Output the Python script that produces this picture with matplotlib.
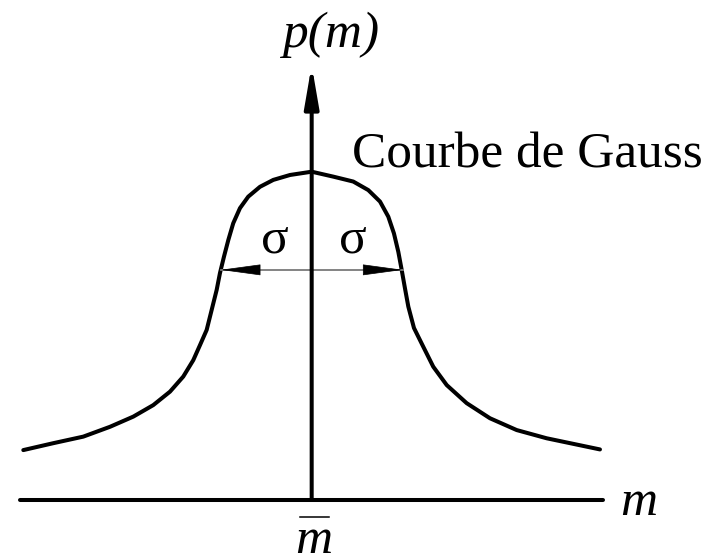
import matplotlib
matplotlib.use("Agg")
import matplotlib.pyplot as plt

# Bell curve p(m): m in units of sigma from the mean, p normalised to the peak
m_values = [-3.169, -2.840, -2.510, -2.216, -1.960, -1.741, -1.557, -1.411, -1.301,
            -1.227, -1.154, -1.099, -1.044, -1.008, -0.964, -0.916, -0.862, -0.788,
            -0.697, -0.568, -0.422, -0.238, 0.000,
            0.237, 0.457, 0.622, 0.751, 0.842, 0.904, 0.952, 0.989, 1.025, 1.062,
            1.124, 1.226, 1.336, 1.484, 1.703, 1.959, 2.253, 2.582, 2.875, 3.168]
p_values = [0.152, 0.173, 0.193, 0.223, 0.254, 0.289, 0.330, 0.376, 0.426,
            0.472, 0.518, 0.579, 0.640, 0.691, 0.741, 0.792, 0.843, 0.889,
            0.924, 0.954, 0.975, 0.990, 1.000,
            0.985, 0.970, 0.944, 0.909, 0.863, 0.812, 0.756, 0.701, 0.645, 0.589,
            0.524, 0.467, 0.406, 0.350, 0.295, 0.249, 0.213, 0.188, 0.171, 0.154]

sigma = 1.0
p_at_sigma = 0.701

x_axis_extent = (-3.205, 3.20)
y_axis_top = 1.325

title_text = "Courbe de Gauss"
y_label = "p(m)"
x_label = "m"
mean_label = "m"
sigma_label = "σ"

fig = plt.figure(figsize=(7.19, 5.56), dpi=100)
ax = fig.add_axes([0, 0, 1, 1])
ax.set_xlim(-3.425, 4.476)
ax.set_ylim(-0.1706, 1.523)
ax.axis("off")

lw = 2.9
font = dict(family="Liberation Serif", size=37)

# horizontal m axis
ax.plot(list(x_axis_extent), [0, 0], color="black", lw=lw, solid_capstyle="round")
# vertical p(m) axis with arrow head
ax.annotate("", xy=(0, y_axis_top), xytext=(0, 0),
            arrowprops=dict(arrowstyle="-|>,head_length=2.5,head_width=0.43",
                            mutation_scale=10, color="black", lw=lw,
                            shrinkA=0, shrinkB=0))

# the curve
ax.plot(m_values, p_values, color="black", lw=lw,
        solid_capstyle="round", solid_joinstyle="round")

# sigma markers
ax.plot([-sigma, sigma], [p_at_sigma, p_at_sigma], color="#7a7a7a", lw=1.3)
for sgn in (-1, 1):
    ax.annotate("", xy=(sgn * sigma, p_at_sigma),
                xytext=(sgn * (sigma - 0.40), p_at_sigma),
                arrowprops=dict(arrowstyle="-|>,head_length=2.65,head_width=0.36",
                                mutation_scale=10, color="black", lw=0.5,
                                shrinkA=0, shrinkB=0))

ax.text(-0.40, 0.755, sigma_label, ha="center", va="baseline", **font)
ax.text(0.453, 0.755, sigma_label, ha="center", va="baseline", **font)

ax.text(0.443, 1.014, title_text, ha="left", va="baseline", **font)
ax.text(-0.326, 1.380, y_label, ha="left", va="baseline", style="italic", **font)
ax.text(3.388, -0.0457, x_label, ha="left", va="baseline", style="italic", **font)

# mean value: italic m with an overbar
ax.text(0.02, -0.161, mean_label, ha="center", va="baseline", style="italic", **font)
ax.plot([-0.128, 0.19], [-0.052, -0.052], color="black", lw=1.1)

fig.savefig("out.png", dpi=100)
